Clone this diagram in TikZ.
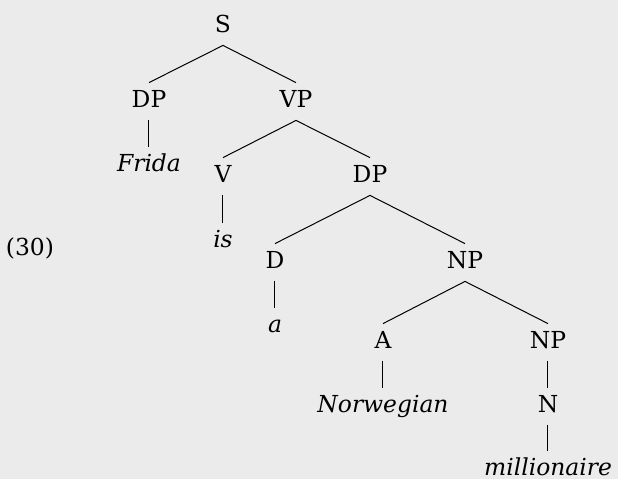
\documentclass[tikz,border=0pt]{standalone}
\usepackage{fontspec}
\setmainfont{DejaVu Serif}
\definecolor{mifondo}{HTML}{EBEBEB}

\begin{document}
\begin{tikzpicture}[
	x=0.5pt, y=-0.5pt,
	minodo/.style ={anchor=base, inner xsep=0pt, inner ysep=3.5pt, text height=8.5pt, text depth=3pt, font=\fontsize{11.7}{14}\selectfont},
	mihoja/.style ={minodo, font=\fontsize{11.7}{14}\selectfont\itshape},
	mirama/.style ={line width=0.5pt}]

	\fill[mifondo] (0,0) rectangle (618,479);
	\useasboundingbox (0,0) rectangle (618,479);

	% numero del ejemplo
	\node[minodo] (ej) at (30,255) {(30)};

	% nodos del arbol
	\node[minodo] (s) at (223,32) {S};
	\node[minodo] (dp) at (149,107) {DP};
	\node[minodo] (vp) at (296,107) {VP};
	\node[minodo] (v) at (223,182) {V};
	\node[minodo] (dpb) at (370,182) {DP};
	\node[minodo] (d) at (275,268) {D};
	\node[minodo] (np) at (465,268) {NP};
	\node[minodo] (adj) at (383,348) {A};
	\node[minodo] (npb) at (548,348) {NP};
	\node[minodo] (n) at (548,412) {N};

	% hojas
	\node[mihoja] (frida) at (149,171) {Frida};
	\node[mihoja] (is) at (223,247) {is};
	\node[mihoja] (a) at (275,332) {a};
	\node[mihoja] (norwegian) at (383,412) {Norwegian};
	\node[mihoja] (millionaire) at (548,475) {millionaire};

	% ramas
	\draw [mirama] (s.south) -- (dp.north);
	\draw [mirama] (s.south) -- (vp.north);
	\draw [mirama] (dp.south) -- (frida.north);
	\draw [mirama] (vp.south) -- (v.north);
	\draw [mirama] (vp.south) -- (dpb.north);
	\draw [mirama] (v.south) -- (is.north);
	\draw [mirama] (dpb.south) -- (d.north);
	\draw [mirama] (dpb.south) -- (np.north);
	\draw [mirama] (d.south) -- (a.north);
	\draw [mirama] (np.south) -- (adj.north);
	\draw [mirama] (np.south) -- (npb.north);
	\draw [mirama] (adj.south) -- (norwegian.north);
	\draw [mirama] (npb.south) -- (n.north);
	\draw [mirama] (n.south) -- (millionaire.north);

\end{tikzpicture}
\end{document}
